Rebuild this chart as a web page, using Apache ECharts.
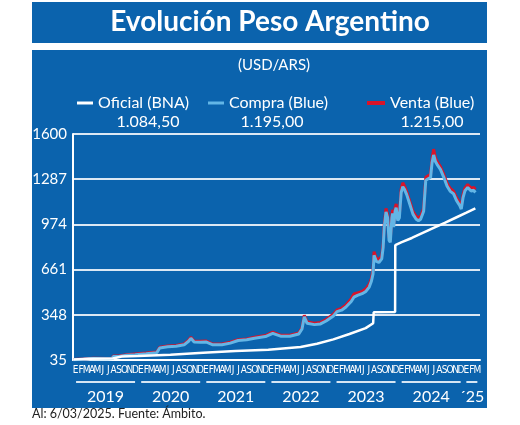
<!DOCTYPE html>
<html>
<head>
<meta charset="utf-8">
<script src="https://cdn.jsdelivr.net/npm/echarts@6/dist/echarts.min.js"></script>
<style>
html,body{margin:0;padding:0;background:#ffffff;}
#chart{width:520px;height:425px;}
</style>
</head>
<body>
<div id="chart"></div>
<script>
// ---- Data ----
var monthLetters = ['E','F','M','A','M','J','J','A','S','O','N','D'];
var yearLabels = ['2019','2020','2021','2022','2023','2024','´25'];
var yTicks = [35, 348, 661, 974, 1287, 1600];

var oficialDates = ['2019-01-02','2019-04-01','2019-08-12','2019-08-13','2019-10-01','2019-12-31','2020-06-30','2020-12-31','2021-06-30','2021-12-31','2022-06-30','2022-09-30','2022-12-31','2023-03-31','2023-06-30','2023-08-11','2023-08-14','2023-12-12','2023-12-13','2024-01-15','2024-03-15','2024-05-15','2024-07-15','2024-09-15','2024-11-15','2025-01-15','2025-03-06'];
var oficial = [38,43,46,58,59,63,72,85,97,106,125,148,178,215,256,290,365,367,830,850,880,915,950,985,1020,1055,1084.5];

var blueDates = ['2019-01-02','2019-03-01','2019-04-25','2019-07-15','2019-08-12','2019-08-14','2019-09-15','2019-10-28','2019-12-15','2020-02-15','2020-04-15','2020-04-22','2020-05-01','2020-06-15','2020-08-01','2020-09-15','2020-10-10','2020-10-23','2020-11-10','2020-12-15','2021-01-15','2021-02-20','2021-04-15','2021-06-01','2021-07-15','2021-09-01','2021-10-15','2021-12-15','2022-01-25','2022-03-10','2022-05-01','2022-06-20','2022-07-08','2022-07-21','2022-08-05','2022-09-15','2022-10-20','2022-11-20','2022-12-31','2023-01-20','2023-02-15','2023-03-10','2023-04-10','2023-04-25','2023-05-15','2023-06-10','2023-07-01','2023-07-20','2023-08-01','2023-08-10','2023-08-16','2023-08-28','2023-09-12','2023-09-28','2023-10-06','2023-10-12','2023-10-22','2023-10-31','2023-11-08','2023-11-15','2023-11-24','2023-11-28','2023-12-04','2023-12-12','2023-12-18','2023-12-27','2024-01-05','2024-01-15','2024-01-24','2024-02-03','2024-02-15','2024-03-03','2024-03-21','2024-04-08','2024-04-21','2024-05-03','2024-05-20','2024-06-01','2024-06-12','2024-06-28','2024-07-06','2024-07-15','2024-07-25','2024-08-03','2024-08-22','2024-09-10','2024-09-28','2024-10-15','2024-11-04','2024-11-20','2024-12-08','2024-12-17','2024-12-27','2025-01-06','2025-01-22','2025-02-10','2025-02-25','2025-03-06'];
var compra = [37,41,45,43,45,60,60,68,72,78,86,90,118,126,130,140,165,185,160,158,160,141,140,152,170,175,185,197,220,200,200,215,250,334,290,280,285,305,340,370,380,400,440,470,482,494,510,540,580,630,760,720,710,735,815,950,1060,1020,865,850,1020,1050,955,1065,1090,1000,1020,1195,1235,1215,1180,1115,1045,1010,1000,1010,1065,1280,1285,1300,1400,1455,1410,1390,1355,1300,1240,1205,1185,1140,1105,1080,1160,1205,1230,1205,1210,1195];
var venta = [38,42,47,45,47,63,63,72,77,83,91,96,124,132,136,146,172,193,167,165,167,147,146,158,176,181,192,204,228,207,207,222,258,345,300,290,295,315,352,382,393,415,460,492,500,510,528,560,600,650,785,740,730,755,835,970,1085,1040,885,870,1040,1075,975,1090,1115,1020,1040,1220,1262,1238,1200,1135,1065,1030,1020,1030,1085,1300,1308,1322,1425,1495,1435,1410,1375,1320,1260,1225,1205,1160,1125,1100,1180,1225,1250,1225,1230,1215];

var legendValues = ['1.084,50','1.195,00','1.215,00'];
var titleText = 'Evolución Peso Argentino';
var unitText = '(USD/ARS)';
var sourceText = 'Al: 6/03/2025. Fuente: Ámbito.';

// ---- Build ----
var BLUE = '#0b63ad';
var monthCats = [];
for (var y = 0; y < 6; y++) { for (var k = 0; k < 12; k++) monthCats.push(monthLetters[k]); }
monthCats.push('E','F','M');

var yearPos = {6:0, 18:1, 30:2, 42:3, 54:4, 66:5, 73.5:6};

function pairs(d, v){ return d.map(function(x,i){ return [x, v[i]]; }); }

var chart = echarts.init(document.getElementById('chart'), null, {renderer:'canvas'});
var FONT = 'Lato';
var option = {
  animation: false,
  backgroundColor: '#ffffff',
  textStyle: {fontFamily: FONT},
  graphic: [
    {type:'rect', z:-10, shape:{x:32, y:2, width:455, height:41}, style:{fill:BLUE}},
    {type:'rect', z:-10, shape:{x:32, y:50, width:455, height:358}, style:{fill:BLUE}},
    {type:'text', z:10, x:270, y:22, style:{text:titleText, fill:'#ffffff', font:'bold 28px Lato', align:'center', verticalAlign:'middle'}},
    {type:'text', z:10, x:274, y:65, style:{text:unitText, fill:'#ffffff', font:'15px Lato', align:'center', verticalAlign:'middle'}},
    {type:'text', z:10, x:148, y:122, style:{text:legendValues[0], fill:'#ffffff', font:'16px Lato', align:'center', verticalAlign:'middle'}},
    {type:'text', z:10, x:272, y:122, style:{text:legendValues[1], fill:'#ffffff', font:'16px Lato', align:'center', verticalAlign:'middle'}},
    {type:'text', z:10, x:432, y:122, style:{text:legendValues[2], fill:'#ffffff', font:'16px Lato', align:'center', verticalAlign:'middle'}},
    {type:'text', z:10, x:32, y:414, style:{text:sourceText, fill:'#222222', font:'12.5px Lato', align:'left', verticalAlign:'middle'}}
  ],
  legend: [
    {left:72, top:90, icon:'rect', itemWidth:16, itemHeight:3, data:['Oficial (BNA)'], textStyle:{color:'#ffffff', fontSize:16, fontFamily:FONT}},
    {left:203, top:90, icon:'rect', itemWidth:16, itemHeight:3, data:['Compra (Blue)'], textStyle:{color:'#ffffff', fontSize:16, fontFamily:FONT}},
    {left:362, top:90, icon:'rect', itemWidth:18, itemHeight:4, data:['Venta (Blue)'], textStyle:{color:'#ffffff', fontSize:16, fontFamily:FONT}}
  ],
  grid: {left:73, right:40, top:134, bottom:65, containLabel:false},
  xAxis: [
    {type:'time', min:'2019-01-01', max:'2025-04-01', axisLine:{show:true, lineStyle:{color:'#ffffff', width:2}}, axisTick:{show:false}, axisLabel:{show:false}, splitLine:{show:false}},
    {type:'category', data:monthCats, boundaryGap:true, position:'bottom', axisLine:{show:false}, axisTick:{show:false}, splitLine:{show:false},
      axisLabel:{interval:0, color:'#ffffff', fontSize:10, margin:5, fontFamily:'"Liberation Sans Narrow", "DejaVu Sans Condensed", sans-serif'}},
    {type:'value', min:0, max:75, interval:1.5, position:'bottom', axisLine:{show:false}, axisTick:{show:false}, splitLine:{show:false},
      axisLabel:{show:true, margin:20, showMinLabel:true, showMaxLabel:true, hideOverlap:false,
        formatter:function(v){ var i = yearPos[v]; if (i === undefined) return ''; return (i === 6 ? '{bs|}' : '{b|}') + '\n{yr|' + yearLabels[i] + '}'; },
        rich:{
          b:{width:59, height:2, lineHeight:4, backgroundColor:'#d6e6f4'},
          bs:{width:11, height:2, lineHeight:4, backgroundColor:'#d6e6f4'},
          yr:{color:'#ffffff', fontSize:16, lineHeight:26, fontFamily:FONT}
        }}}
  ],
  yAxis: {type:'value', min:35, max:1600, interval:313,
    axisLine:{show:true, lineStyle:{color:'#ffffff', width:2}}, axisTick:{show:false},
    axisLabel:{color:'#ffffff', fontSize:15, margin:6, fontFamily:FONT, formatter:function(v){ return String(v); }},
    splitLine:{show:true, lineStyle:{color:'#dbe8f4', width:2}}},
  series: [
    {name:'Venta (Blue)', type:'line', xAxisIndex:0, showSymbol:false, data:pairs(blueDates, venta), lineStyle:{color:'#d8142a', width:3}, itemStyle:{color:'#d8142a'}, z:3},
    {name:'Compra (Blue)', type:'line', xAxisIndex:0, showSymbol:false, data:pairs(blueDates, compra), lineStyle:{color:'#63b6e6', width:3}, itemStyle:{color:'#63b6e6'}, z:4},
    {name:'Oficial (BNA)', type:'line', xAxisIndex:0, showSymbol:false, data:pairs(oficialDates, oficial), lineStyle:{color:'#ffffff', width:2.5}, itemStyle:{color:'#ffffff'}, z:5}
  ]
};
chart.setOption(option);
</script>
</body>
</html>
